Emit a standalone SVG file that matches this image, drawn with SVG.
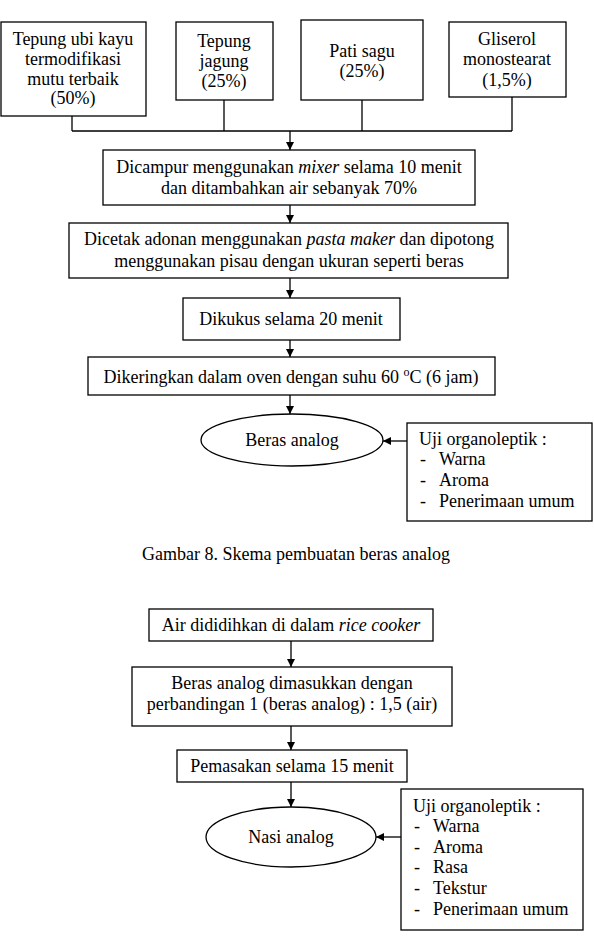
<svg xmlns="http://www.w3.org/2000/svg" width="594" height="940" viewBox="0 0 594 940">
<style>
text{font-family:"Liberation Serif","Times New Roman",serif;font-size:18px;fill:#000}
.c{text-anchor:middle}
.b{fill:#fff;stroke:#000;stroke-width:1.3}
.l{fill:none;stroke:#000;stroke-width:1.3}
.a{fill:none;stroke:#000;stroke-width:1.3;marker-end:url(#ah)}
</style>
<defs>
<marker id="ah" markerWidth="8" markerHeight="8" refX="8" refY="4" orient="auto" markerUnits="userSpaceOnUse">
<path d="M0,0 L8,4 L0,8 Z" fill="#000"/>
</marker>
</defs>
<rect width="594" height="940" fill="#fff"/>
<g id="connectors">
<path class="l" d="M72,116 V131 M224,100 V131 M362,100 V131 M512,97 V131 M72,131 H512"/>
<path class="a" d="M290,131 V150"/>
<path class="a" d="M290,205 V223"/>
<path class="a" d="M290,278 V298"/>
<path class="a" d="M290,340 V357"/>
<path class="a" d="M290,395 V414"/>
<path class="a" d="M407,441 H383"/>
<path class="a" d="M291,641 V667"/>
<path class="a" d="M291,726 V750"/>
<path class="a" d="M291,782 V807"/>
<path class="a" d="M401,837 H376"/>
</g>
<g id="n1"><rect class="b" x="1" y="22" width="145" height="94"/>
<text class="c" x="73" y="45">Tepung ubi kayu</text><text class="c" x="73" y="65">termodifikasi</text><text class="c" x="73" y="85">mutu terbaik</text><text class="c" x="73" y="104">(50%)</text></g>
<g id="n2"><rect class="b" x="176" y="22" width="97" height="78"/>
<text class="c" x="224" y="47">Tepung</text><text class="c" x="224" y="67">jagung</text><text class="c" x="224" y="87">(25%)</text></g>
<g id="n3"><rect class="b" x="301" y="20" width="122" height="80"/>
<text class="c" x="362" y="57">Pati sagu</text><text class="c" x="362" y="77">(25%)</text></g>
<g id="n4"><rect class="b" x="449" y="22" width="117" height="75"/>
<text class="c" x="507" y="45">Gliserol</text><text class="c" x="507" y="65">monostearat</text><text class="c" x="507" y="86">(1,5%)</text></g>
<g id="n5"><rect class="b" x="103" y="150" width="372" height="55"/>
<text class="c" x="289" y="173">Dicampur menggunakan <tspan font-style="italic">mixer</tspan> selama 10 menit</text>
<text class="c" x="289" y="194">dan ditambahkan air sebanyak 70%</text></g>
<g id="n6"><rect class="b" x="69" y="223" width="439" height="55"/>
<text class="c" x="289" y="245">Dicetak adonan menggunakan <tspan font-style="italic">pasta maker</tspan> dan dipotong</text>
<text class="c" x="289" y="267">menggunakan pisau dengan ukuran seperti beras</text></g>
<g id="n7"><rect class="b" x="183" y="298" width="217" height="42"/>
<text class="c" x="291" y="325">Dikukus selama 20 menit</text></g>
<g id="n8"><rect class="b" x="88" y="357" width="407" height="38"/>
<text class="c" x="291" y="383">Dikeringkan dalam oven dengan suhu 60 <tspan font-size="12" dy="-7">o</tspan><tspan dy="7">C (6 jam)</tspan></text></g>
<g id="n9"><ellipse class="b" cx="292" cy="440" rx="91" ry="26"/>
<text class="c" x="292" y="446">Beras analog</text></g>
<g id="n10"><rect class="b" x="407" y="423" width="185" height="98"/>
<text x="419" y="445">Uji organoleptik :</text>
<text x="420" y="465">-</text><text x="439" y="465">Warna</text>
<text x="420" y="486">-</text><text x="439" y="486">Aroma</text>
<text x="420" y="507">-</text><text x="439" y="507">Penerimaan umum</text></g>
<text class="c" x="296" y="560">Gambar 8. Skema pembuatan beras analog</text>
<g id="m1"><rect class="b" x="149" y="609" width="284" height="32"/>
<text class="c" x="291" y="631">Air dididihkan di dalam <tspan font-style="italic">rice cooker</tspan></text></g>
<g id="m2"><rect class="b" x="132" y="667" width="320" height="59"/>
<text class="c" x="292" y="689">Beras analog dimasukkan dengan</text>
<text class="c" x="292" y="710">perbandingan 1 (beras analog) : 1,5 (air)</text></g>
<g id="m3"><rect class="b" x="177" y="750" width="230" height="32"/>
<text class="c" x="292" y="772">Pemasakan selama 15 menit</text></g>
<g id="m4"><ellipse class="b" cx="291" cy="837" rx="85" ry="30"/>
<text class="c" x="291" y="843">Nasi analog</text></g>
<g id="m5"><rect class="b" x="401" y="789" width="182" height="141"/>
<text x="413" y="812">Uji organoleptik :</text>
<text x="414" y="832">-</text><text x="433" y="832">Warna</text>
<text x="414" y="853">-</text><text x="433" y="853">Aroma</text>
<text x="414" y="873">-</text><text x="433" y="873">Rasa</text>
<text x="414" y="894">-</text><text x="433" y="894">Tekstur</text>
<text x="414" y="915">-</text><text x="433" y="915">Penerimaan umum</text></g>
</svg>
